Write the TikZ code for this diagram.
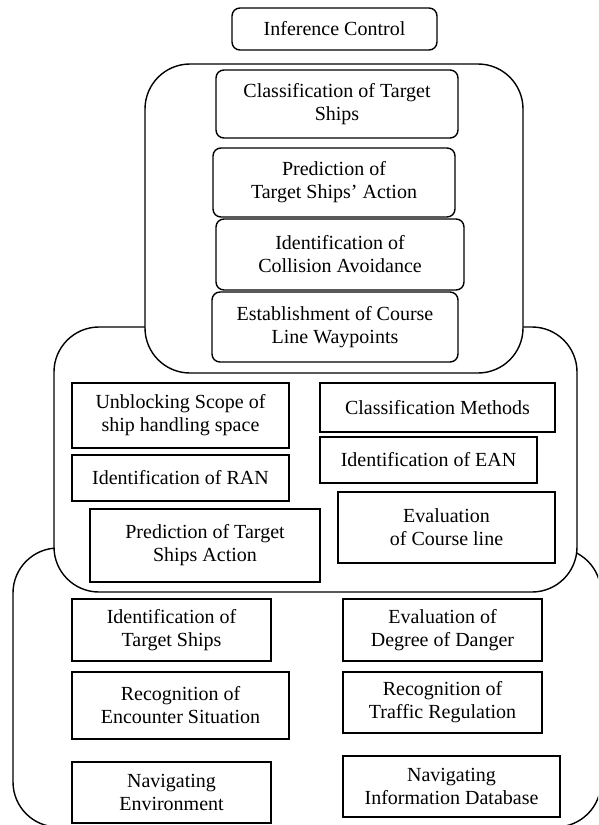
\documentclass[tikz,border=0pt]{standalone}
\usepackage{fontspec}
\setmainfont{Liberation Serif}
\tikzset{
  bigbox/.style={draw=black, line width=1.4pt, fill=white, rounded corners=45pt},
  rbox/.style={draw=black, line width=1.4pt, fill=white, rounded corners=8pt, rectangle, inner sep=0pt, align=center, font=\fontsize{20}{23}\selectfont},
  sbox/.style={draw=black, line width=1.4pt, fill=white, rectangle, inner sep=0pt, align=center, font=\fontsize{20}{23}\selectfont},
}
\newcommand{\boxnode}[7]{%
  \pgfmathsetmacro\bw{#5-#3}%
  \pgfmathsetmacro\bh{#6-#4}%
  \node[#1, minimum width=\bw pt, minimum height=\bh pt] (#2) at ({(#3+#5)/2},{(#4+#6)/2}) {#7};}
\begin{document}
\begin{tikzpicture}[x=1pt, y=-1pt]
\useasboundingbox (0,0) rectangle (598,825);
\clip (0,0) rectangle (598,825);
\fill[white] (0,0) rectangle (598,825);
% nested layers
\draw[bigbox] (13,548) rectangle (601,827);
\draw[bigbox] (54,327) rectangle (577,592);
\draw[bigbox] (145,64) rectangle (523,373);
% top
\boxnode{rbox}{ic}{232}{8}{437}{50}{Inference Control}
% inference layer
\boxnode{rbox}{cts}{216}{70}{458}{138}{Classification of Target\\Ships}
\boxnode{rbox}{pta}{213}{148}{455}{217}{Prediction of\\Target Ships' Action}
\boxnode{rbox}{ica}{216}{219}{464}{290}{Identification of\\Collision Avoidance}
\boxnode{rbox}{ecl}{212}{292}{458}{362}{Establishment of Course\\Line Waypoints}
% middle layer
\boxnode{sbox}{ush}{72}{383}{289}{448}{Unblocking Scope of\\ship handling space}
\boxnode{sbox}{cm}{320}{383}{555}{432}{Classification Methods}
\boxnode{sbox}{ean}{320}{437}{537}{483}{Identification of EAN}
\boxnode{sbox}{ran}{72}{455}{289}{501}{Identification of RAN}
\boxnode{sbox}{ecourse}{338}{492}{555}{563}{Evaluation\\of Course line}
\boxnode{sbox}{ptsa}{90}{509}{320}{582}{Prediction of Target\\Ships Action}
% bottom layer
\boxnode{sbox}{its}{72}{599}{271}{661}{Identification of\\Target Ships}
\boxnode{sbox}{edd}{343}{599}{542}{661}{Evaluation of\\Degree of Danger}
\boxnode{sbox}{res}{72}{672}{289}{739}{Recognition of\\Encounter Situation}
\boxnode{sbox}{rtr}{343}{672}{542}{733}{Recognition of\\Traffic Regulation}
\boxnode{sbox}{ne}{72}{762}{271}{823}{Navigating\\Environment}
\boxnode{sbox}{nid}{343}{756}{560}{817}{Navigating\\Information Database}
\end{tikzpicture}
\end{document}
